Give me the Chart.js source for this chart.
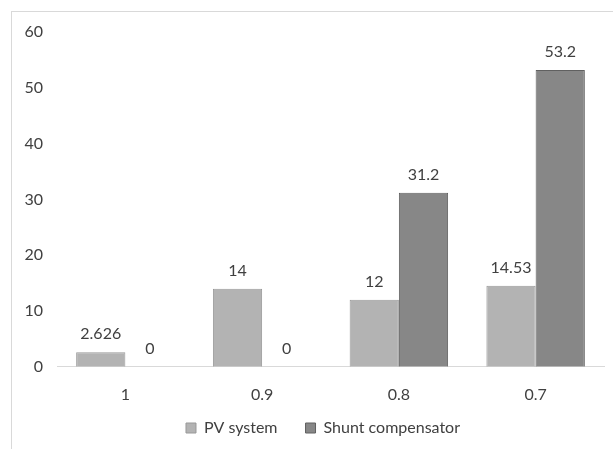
<!DOCTYPE html>
<html>
<head>
<meta charset="utf-8">
<script src="https://cdn.jsdelivr.net/npm/chart.js@4"></script>
<style>
  html, body { margin: 0; padding: 0; background: #fff; }
  #wrap { position: relative; width: 613px; height: 449px; overflow: hidden; }
  #frame { position: absolute; left: 11px; top: 11px; width: 700px; height: 600px; border-left: 1px solid #d9d9d9; border-top: 1px solid #d9d9d9; box-sizing: border-box; }
  canvas { position: absolute; left: 0; top: 0; }
</style>
</head>
<body>
<div id="wrap">
  <div id="frame"></div>
  <canvas id="c" width="613" height="449"></canvas>
</div>
<script>
const categories = ["1", "0.9", "0.8", "0.7"];
const pvSystem = [2.626, 14, 12, 14.53];
const shuntCompensator = [0, 0, 31.2, 53.2];
const seriesNames = ["PV system", "Shunt compensator"];
const yTicks = [0, 10, 20, 30, 40, 50, 60];

const FONT = "Lato, 'Open Sans', sans-serif";
const TEXT = "#404040";

const valueLabels = {
  id: "valueLabels",
  afterDatasetsDraw(chart) {
    const ctx = chart.ctx;
    ctx.save();
    ctx.font = "16px " + FONT;
    ctx.fillStyle = TEXT;
    ctx.textAlign = "center";
    ctx.textBaseline = "middle";
    chart.data.datasets.forEach((ds, i) => {
      const meta = chart.getDatasetMeta(i);
      meta.data.forEach((bar, j) => {
        ctx.fillText(String(ds.data[j]), bar.x, bar.y - 18);
      });
    });
    ctx.restore();
  }
};

const legendFix = {
  id: "legendFix",
  afterInit(chart) {
    const L = chart.legend;
    if (!L) return;
    const orig = L.fit;
    L.fit = function () { orig.call(this); this.height = 27; };
  },
  beforeDraw(chart) {
    const L = chart.legend;
    if (!L || L._shifted) return;
    L.left += 21; L.right += 21;
    L.top = 392; L.bottom = 449; L.height = 57;
    L._shifted = true;
  },
  afterLayout(chart) { if (chart.legend) chart.legend._shifted = false; }
};

new Chart(document.getElementById("c"), {
  type: "bar",
  data: {
    labels: categories,
    datasets: [
      { label: seriesNames[0], data: pvSystem, backgroundColor: "#b3b3b3", borderColor: "#999999", borderWidth: 1 },
      { label: seriesNames[1], data: shuntCompensator, backgroundColor: "#878787", borderColor: "#606060", borderWidth: 1 }
    ]
  },
  options: {
    responsive: false,
    animation: false,
    devicePixelRatio: 1,
    layout: { padding: { left: 0, right: 9, top: 32, bottom: 0 } },
    datasets: { bar: { barPercentage: 1, categoryPercentage: 0.72 } },
    plugins: {
      legend: {
        position: "bottom",
        labels: {
          font: { family: FONT, size: 16 },
          color: TEXT,
          boxWidth: 10,
          boxHeight: 10,
          padding: 28
        }
      },
      tooltip: { enabled: false }
    },
    scales: {
      x: {
        grid: { display: false, drawTicks: false },
        border: { display: true, color: "#d9d9d9", width: 1 },
        ticks: { font: { family: FONT, size: 16 }, color: TEXT, padding: 18 }
      },
      y: {
        min: 0, max: 60,
        afterFit(scale) { scale.width = 57; },
        afterBuildTicks(scale) { scale.ticks = yTicks.map(v => ({ value: v })); },
        grid: { display: false, drawTicks: false },
        border: { display: false },
        ticks: { font: { family: FONT, size: 16 }, color: TEXT, padding: 14 }
      }
    }
  },
  plugins: [valueLabels, legendFix]
});
</script>
</body>
</html>
